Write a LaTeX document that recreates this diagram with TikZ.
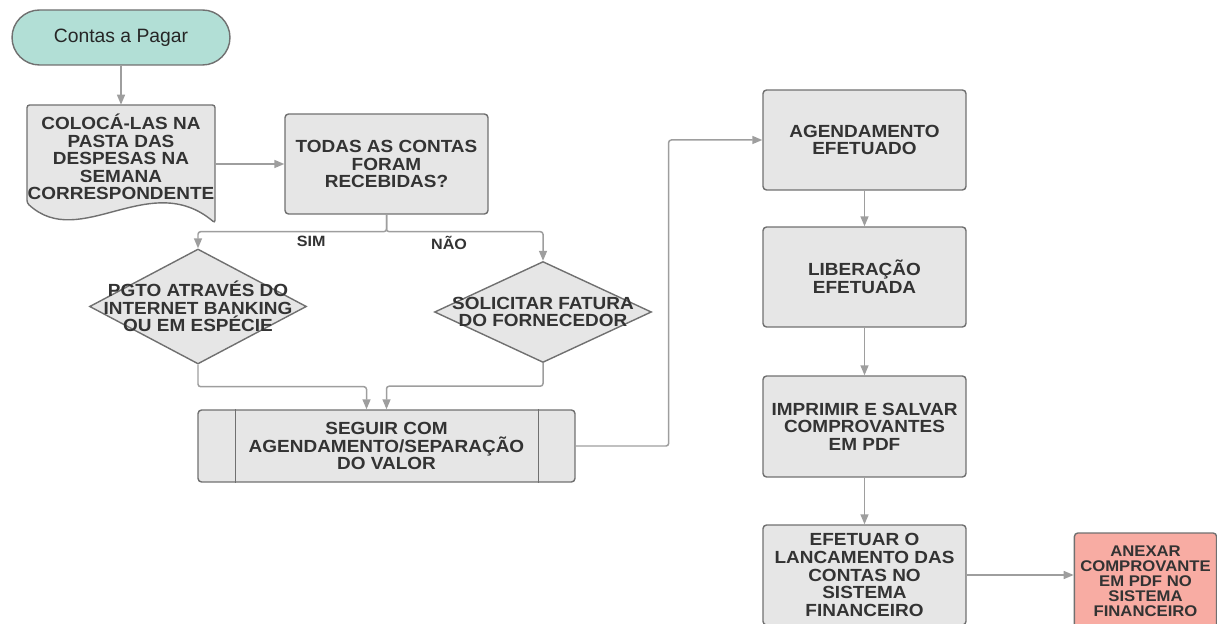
\documentclass[tikz,border=0pt]{standalone}
\usepackage{fontspec}
\setmainfont{Liberation Sans}
\newfontfamily\boxfont[FakeStretch=1.08]{Liberation Sans}
\definecolor{BoxGrey}{RGB}{230, 230, 230}
\definecolor{BoxLine}{RGB}{112, 112, 112}
\definecolor{LinkGrey}{RGB}{158, 158, 158}
\definecolor{TextGrey}{RGB}{51, 51, 51}
\definecolor{Teal}{RGB}{178, 223, 214}
\definecolor{Salmon}{RGB}{248, 172, 163}
\usetikzlibrary{arrows.meta, positioning, shapes.geometric, calc}

\begin{document}
\begin{tikzpicture}[x=0.02cm, y=-0.02cm,
        box/.style={rectangle, draw=BoxLine, line width=0.8pt, fill=BoxGrey, rounded corners=2pt, minimum width=4.06cm, minimum height=2.0cm, align=center, text=TextGrey, font=\boxfont\bfseries\fontsize{10}{10}\selectfont},
        terminal/.style={rectangle, draw=BoxLine, line width=0.8pt, fill=Teal, rounded corners=0.55cm, minimum width=4.36cm, minimum height=1.1cm, font=\fontsize{11}{12}\selectfont, text=black!85},
        decision/.style={diamond, draw=BoxLine, line width=0.8pt, fill=BoxGrey, minimum width=4.34cm, minimum height=2.02cm, inner sep=0pt},
        dtext/.style={align=center, text=TextGrey, inner sep=0pt, font=\boxfont\bfseries\fontsize{10}{10}\selectfont},
        tag/.style={text=TextGrey, font=\boxfont\bfseries\fontsize{8.5}{9}\selectfont, inner sep=2pt},
        arrow/.style={-{Triangle[length=2mm, width=1.6mm]}, draw=LinkGrey, line width=0.85pt, rounded corners=1.5pt}
    ]
    \useasboundingbox (0,0) rectangle (1217,624);

    % left column
    \node[terminal] (start) at (121,37.5) {Contas a Pagar};
    \draw[draw=BoxLine, line width=0.8pt, fill=BoxGrey, rounded corners=1.5pt]
        (27,105) -- (215,105) -- (215,223) .. controls (150,168) and (80,252) .. (27,203) -- cycle;
    \node[dtext, minimum width=3.76cm, minimum height=2.08cm] (doc) at (121,157)
        {COLOCÁ-LAS NA\\PASTA DAS\\DESPESAS NA\\SEMANA\\CORRESPONDENTE};
    \node[box] (todas) at (386.5,164) {TODAS AS CONTAS\\FORAM\\RECEBIDAS?};
    \node[decision, minimum height=2.3cm, label={[dtext]center:{PGTO ATRAVÉS DO\\INTERNET BANKING\\OU EM ESPÉCIE}}] (pgto) at (198,306.5) {};
    \node[decision, label={[dtext]center:{SOLICITAR FATURA\\DO FORNECEDOR}}] (fatura) at (543,312) {};
    \node[box, minimum width=7.54cm, minimum height=1.44cm] (seguir) at (386.5,446)
        {SEGUIR COM\\AGENDAMENTO/SEPARAÇÃO\\DO VALOR};
    \draw[draw=BoxLine, line width=0.8pt] ([xshift=0.76cm]seguir.north west) -- ([xshift=0.76cm]seguir.south west);
    \draw[draw=BoxLine, line width=0.8pt] ([xshift=-0.74cm]seguir.north east) -- ([xshift=-0.74cm]seguir.south east);

    % right column
    \node[box] (agenda) at (864.5,140) {AGENDAMENTO\\EFETUADO};
    \node[box] (libera) at (864.5,277) {LIBERAÇÃO\\EFETUADA};
    \node[box, minimum height=2.02cm] (imprime) at (864.5,426.5) {IMPRIMIR E SALVAR\\COMPROVANTES\\EM PDF};
    \node[box] (lanca) at (864.5,575) {EFETUAR O\\LANCAMENTO DAS\\CONTAS NO\\SISTEMA\\FINANCEIRO};
    \node[box, fill=Salmon, minimum width=2.74cm, minimum height=1.94cm, font=\boxfont\bfseries\fontsize{8.8}{8.6}\selectfont] (anexa) at (1145.5,581.5)
        {ANEXAR\\COMPROVANTE\\EM PDF NO\\SISTEMA\\FINANCEIRO};

    % connectors
    \draw[arrow] (start) -- (doc);
    \draw[arrow] (doc.east |- todas) -- (todas);
    \draw[arrow] (todas.south) -- ++(0,17) -| node[tag, below, pos=0.2] {SIM} (pgto.north);
    \draw[arrow] (todas.south) -- ++(0,17) -| node[tag, below, pos=0.2] {NÃO} (fatura.north);
    \draw[arrow] (pgto.south) -- ++(0,22) -| ([xshift=-0.4cm]seguir.north);
    \draw[arrow] (fatura.south) -- ++(0,23) -| (seguir.north);
    \draw[arrow] (seguir.east) -- ++(93,0) |- (agenda.west);
    \draw[arrow] (agenda) -- (libera);
    \draw[arrow] (libera) -- (imprime);
    \draw[arrow] (imprime) -- (lanca);
    \draw[arrow] (lanca.east |- 0,575) -- (anexa.west |- 0,575);
\end{tikzpicture}
\end{document}
